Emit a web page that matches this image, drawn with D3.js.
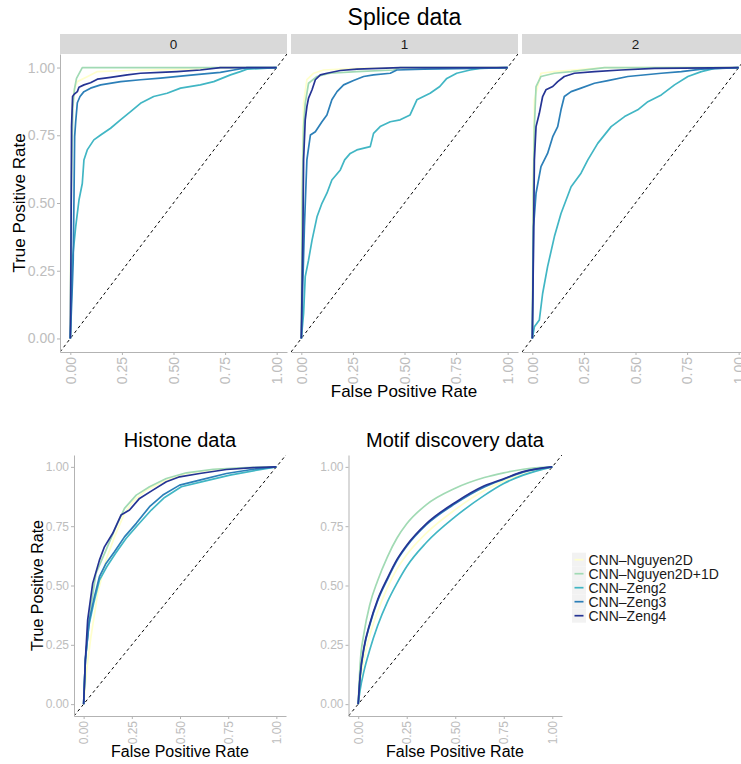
<html lang="en">
<head>
<meta charset="utf-8">
<title>ROC curves</title>
<style>
  body { margin: 0; background-color: white; }
  svg { font-family: "Liberation Sans", Arial, Helvetica, sans-serif; }
</style>
</head>
<body>
<script src="https://cdnjs.cloudflare.com/ajax/libs/d3/7.8.5/d3.min.js"></script>
<script>
// series / colours / ticks
var seriesNames = ["CNN\u2013Nguyen2D", "CNN\u2013Nguyen2D+1D", "CNN\u2013Zeng2", "CNN\u2013Zeng3", "CNN\u2013Zeng4"];
var seriesColors = ["#ffffcc", "#a1dab4", "#41b6c4", "#2c7fb8", "#253494"];
var tickValues = [0, 0.25, 0.5, 0.75, 1];
var tickLabels = ["0.00", "0.25", "0.50", "0.75", "1.00"];
var facetLabels = ["0", "1", "2"];

// ROC points [false positive rate, true positive rate]
// Splice, facet 0
var splice0_n2d = [[0,0],[0.003,0.5],[0.01,0.86],[0.02,0.92],[0.034,0.948],[0.082,0.966],[0.131,0.985],[0.276,0.989],[0.6,0.994],[0.727,1],[1,1]];
var splice0_n2d1d = [[0,0],[0.004,0.5],[0.012,0.85],[0.02,0.92],[0.03,0.96],[0.058,1],[1,1]];
var splice0_zeng2 = [[0,0],[0.003,0.1],[0.01,0.289],[0.026,0.412],[0.042,0.511],[0.058,0.572],[0.066,0.659],[0.082,0.696],[0.114,0.733],[0.147,0.751],[0.195,0.776],[0.243,0.807],[0.292,0.837],[0.34,0.868],[0.404,0.893],[0.469,0.905],[0.534,0.924],[0.63,0.936],[0.695,0.948],[0.776,0.973],[0.824,0.985],[0.856,0.994],[1,1]];
var splice0_zeng3 = [[0,0],[0.01,0.2],[0.014,0.289],[0.018,0.536],[0.021,0.745],[0.026,0.8],[0.034,0.87],[0.047,0.893],[0.066,0.911],[0.098,0.924],[0.147,0.936],[0.244,0.948],[0.34,0.955],[0.437,0.961],[0.597,0.973],[0.727,0.982],[0.792,0.991],[0.856,1],[1,1]];
var splice0_zeng4 = [[0,0],[0.003,0.289],[0.006,0.782],[0.011,0.893],[0.018,0.901],[0.034,0.911],[0.042,0.927],[0.066,0.936],[0.098,0.944],[0.131,0.957],[0.195,0.964],[0.276,0.973],[0.34,0.979],[0.437,0.982],[0.517,0.985],[0.63,0.991],[0.727,1],[1,1]];
// Splice, facet 1
var splice1_n2d = [[0,0],[0.003,0.536],[0.011,0.868],[0.027,0.955],[0.06,0.979],[0.108,0.991],[0.269,0.997],[0.479,1],[1,1]];
var splice1_n2d1d = [[0,0],[0.005,0.536],[0.011,0.782],[0.019,0.868],[0.035,0.942],[0.076,0.967],[0.14,0.979],[0.269,0.985],[0.447,0.991],[0.479,1],[1,1]];
var splice1_zeng2 = [[0,0],[0.011,0.092],[0.019,0.228],[0.035,0.289],[0.052,0.363],[0.076,0.449],[0.1,0.499],[0.124,0.536],[0.148,0.585],[0.189,0.622],[0.21,0.659],[0.237,0.683],[0.269,0.696],[0.334,0.708],[0.35,0.757],[0.382,0.782],[0.431,0.8],[0.479,0.807],[0.527,0.825],[0.56,0.881],[0.624,0.905],[0.671,0.93],[0.705,0.96],[0.753,0.979],[0.818,0.991],[0.866,0.997],[1,1]];
var splice1_zeng3 = [[0,0],[0.006,0.166],[0.015,0.412],[0.027,0.659],[0.044,0.751],[0.068,0.763],[0.1,0.8],[0.124,0.825],[0.148,0.881],[0.173,0.911],[0.205,0.936],[0.253,0.952],[0.302,0.967],[0.35,0.973],[0.431,0.979],[0.463,0.991],[0.592,0.994],[0.834,0.997],[1,1]];
var splice1_zeng4 = [[0,0],[0.008,0.412],[0.011,0.659],[0.019,0.807],[0.027,0.856],[0.035,0.887],[0.052,0.918],[0.068,0.955],[0.092,0.973],[0.124,0.979],[0.189,0.989],[0.269,0.994],[0.479,1],[1,1]];
// Splice, facet 2
var splice2_n2d = [[0,0],[0.003,0.536],[0.01,0.881],[0.042,0.979],[0.107,0.985],[0.35,1],[1,1]];
var splice2_n2d1d = [[0,0],[0.005,0.536],[0.01,0.782],[0.018,0.93],[0.042,0.967],[0.107,0.979],[0.188,0.985],[0.35,1],[1,1]];
var splice2_zeng2 = [[0,0],[0.01,0.043],[0.034,0.068],[0.05,0.166],[0.074,0.265],[0.107,0.376],[0.139,0.461],[0.188,0.56],[0.236,0.61],[0.269,0.659],[0.317,0.72],[0.382,0.782],[0.447,0.819],[0.511,0.844],[0.56,0.874],[0.625,0.899],[0.689,0.936],[0.754,0.967],[0.819,0.985],[0.883,0.997],[1,1]];
var splice2_zeng3 = [[0,0],[0.006,0.412],[0.018,0.536],[0.042,0.634],[0.074,0.683],[0.099,0.745],[0.123,0.782],[0.139,0.844],[0.155,0.893],[0.188,0.911],[0.236,0.924],[0.301,0.942],[0.366,0.952],[0.463,0.967],[0.625,0.979],[0.722,0.985],[0.819,0.994],[1,1]];
var splice2_zeng4 = [[0,0],[0.005,0.289],[0.01,0.659],[0.018,0.782],[0.034,0.831],[0.05,0.893],[0.066,0.918],[0.099,0.93],[0.123,0.948],[0.155,0.967],[0.204,0.979],[0.301,0.985],[0.43,0.991],[0.592,0.997],[1,1]];
// Histone
var histone_n2d = [[0,0],[0.016,0.144],[0.038,0.285],[0.073,0.467],[0.116,0.607],[0.16,0.705],[0.212,0.804],[0.255,0.853],[0.325,0.902],[0.429,0.944],[0.533,0.972],[0.689,0.989],[1,1]];
var histone_n2d1d = [[0,0],[0.009,0.187],[0.03,0.37],[0.064,0.551],[0.116,0.649],[0.168,0.748],[0.212,0.825],[0.273,0.881],[0.342,0.916],[0.429,0.951],[0.533,0.975],[0.672,0.99],[0.845,0.997],[1,1]];
var histone_zeng2 = [[0,0],[0.009,0.187],[0.026,0.327],[0.052,0.425],[0.082,0.523],[0.12,0.579],[0.165,0.635],[0.22,0.698],[0.281,0.755],[0.351,0.818],[0.42,0.871],[0.507,0.916],[0.611,0.937],[0.759,0.965],[0.898,0.986],[1,1]];
var histone_zeng3 = [[0,0],[0.009,0.187],[0.03,0.355],[0.056,0.453],[0.082,0.537],[0.116,0.593],[0.16,0.642],[0.212,0.705],[0.273,0.762],[0.342,0.832],[0.411,0.881],[0.498,0.923],[0.602,0.944],[0.741,0.972],[0.88,0.99],[1,1]];
var histone_zeng4 = [[0,0],[0.009,0.187],[0.021,0.355],[0.047,0.509],[0.082,0.607],[0.108,0.663],[0.151,0.72],[0.194,0.797],[0.238,0.818],[0.29,0.867],[0.359,0.902],[0.429,0.937],[0.498,0.958],[0.602,0.972],[0.741,0.989],[0.88,0.997],[1,1]];
// Motif discovery
var motif_n2d = [[0,0],[0.01,0.09],[0.03,0.19],[0.06,0.29],[0.1,0.39],[0.15,0.49],[0.2,0.57],[0.25,0.63],[0.35,0.72],[0.5,0.82],[0.65,0.9],[0.75,0.94],[0.85,0.97],[1,1]];
var motif_n2d1d = [[0,0],[0.01,0.17],[0.03,0.3],[0.06,0.42],[0.1,0.52],[0.15,0.62],[0.2,0.7],[0.25,0.76],[0.35,0.84],[0.5,0.91],[0.65,0.955],[0.75,0.975],[0.85,0.99],[1,1]];
var motif_zeng2 = [[0,0],[0.01,0.06],[0.03,0.14],[0.06,0.23],[0.1,0.33],[0.15,0.43],[0.2,0.51],[0.25,0.58],[0.35,0.68],[0.5,0.79],[0.65,0.88],[0.75,0.93],[0.85,0.965],[1,1]];
var motif_zeng3 = [[0,0],[0.01,0.115],[0.03,0.235],[0.06,0.335],[0.1,0.435],[0.15,0.525],[0.2,0.605],[0.25,0.665],[0.35,0.755],[0.5,0.845],[0.65,0.915],[0.75,0.948],[0.85,0.978],[1,1]];
var motif_zeng4 = [[0,0],[0.01,0.12],[0.03,0.24],[0.06,0.34],[0.1,0.44],[0.15,0.53],[0.2,0.61],[0.25,0.67],[0.35,0.76],[0.5,0.85],[0.65,0.92],[0.75,0.95],[0.85,0.98],[1,1]];

var fullWidth = 741;
var fullHeight = 764;
var tickGray = "#bdbdbd";
var lineGray = "#b3b3b3";

var svg = d3.select("body")
            .append("svg")
            .attr("width", fullWidth)
            .attr("height", fullHeight);

var clipCount = 0;

function drawPanel(left, top, w, h, curves, opt) {
  var x = d3.scaleLinear().domain([-0.05, 1.05]).range([left, left + w]);
  var y = d3.scaleLinear().domain([-0.05, 1.05]).range([top + h, top]);

  var clipId = "clip" + (clipCount++);
  svg.append("clipPath").attr("id", clipId)
     .append("rect").attr("x", left).attr("y", top).attr("width", w).attr("height", h);

  var g = svg.append("g").attr("clip-path", "url(#" + clipId + ")");

  // chance line
  g.append("line")
   .attr("x1", x(-0.05)).attr("y1", y(-0.05))
   .attr("x2", x(1.05)).attr("y2", y(1.05))
   .attr("stroke", "black").attr("stroke-width", 1)
   .attr("stroke-dasharray", "3,3");

  var line = d3.line()
               .x(function(d) { return x(d[0]); })
               .y(function(d) { return y(d[1]); })
               .curve(opt.smooth ? d3.curveMonotoneX : d3.curveLinear);

  g.selectAll(".roc")
   .data(curves).enter()
   .append("path").attr("class", "roc")
   .attr("d", line)
   .attr("fill", "none")
   .attr("stroke", function(d, i) { return seriesColors[i]; })
   .attr("stroke-width", 1.7)
   .attr("stroke-linejoin", "round");

  // x axis
  var xAxis = d3.axisBottom(x)
                .tickValues(tickValues)
                .tickFormat(function(d, i) { return tickLabels[i]; })
                .tickSize(3).tickSizeOuter(0);
  var gx = svg.append("g")
              .attr("transform", "translate(0," + (top + h) + ")")
              .call(xAxis);
  gx.select(".domain").attr("stroke", lineGray);
  gx.selectAll(".tick line").attr("stroke", lineGray);
  gx.selectAll("text")
    .attr("fill", tickGray)
    .attr("font-family", "Liberation Sans, Arial, sans-serif")
    .attr("font-size", opt.tickSize)
    .attr("transform", "rotate(-90)")
    .attr("text-anchor", "end")
    .attr("x", -5).attr("y", 0).attr("dy", "0.35em");

  if (opt.showY) {
    var yAxis = d3.axisLeft(y)
                  .tickValues(tickValues)
                  .tickFormat(function(d, i) { return tickLabels[i]; })
                  .tickSize(3).tickSizeOuter(0).tickPadding(2);
    var gy = svg.append("g")
                .attr("transform", "translate(" + left + ",0)")
                .call(yAxis);
    gy.select(".domain").attr("stroke", lineGray);
    gy.selectAll(".tick line").attr("stroke", lineGray);
    gy.selectAll("text")
      .attr("fill", tickGray)
      .attr("font-family", "Liberation Sans, Arial, sans-serif")
      .attr("font-size", opt.tickSize);
  }
}

// ---- Splice data (faceted) ----
var spliceCurves = [
  [splice0_n2d, splice0_n2d1d, splice0_zeng2, splice0_zeng3, splice0_zeng4],
  [splice1_n2d, splice1_n2d1d, splice1_zeng2, splice1_zeng3, splice1_zeng4],
  [splice2_n2d, splice2_n2d1d, splice2_zeng2, splice2_zeng3, splice2_zeng4]
];
var facetW = 227, facetGap = 4, facetLeft = 60, facetTop = 54, facetH = 298;

svg.append("text")
   .attr("x", facetLeft + (3 * facetW + 2 * facetGap) / 2).attr("y", 25)
   .attr("text-anchor", "middle").attr("font-size", 23).attr("fill", "black")
   .text("Splice data");

spliceCurves.forEach(function(curves, i) {
  var left = facetLeft + i * (facetW + facetGap);
  svg.append("rect")
     .attr("x", left).attr("y", 34).attr("width", facetW).attr("height", 20)
     .attr("fill", "#d9d9d9");
  svg.append("text")
     .attr("x", left + facetW / 2).attr("y", 44).attr("dy", "0.35em")
     .attr("text-anchor", "middle").attr("font-size", 13.5).attr("fill", "#1a1a1a")
     .text(facetLabels[i]);
  drawPanel(left, facetTop, facetW, facetH, curves, {showY: i === 0, tickSize: 14, smooth: false});
});

svg.append("text")
   .attr("x", 404).attr("y", 397)
   .attr("text-anchor", "middle").attr("font-size", 17).attr("fill", "black")
   .text("False Positive Rate");
svg.append("text")
   .attr("transform", "translate(25," + (facetTop + facetH / 2) + ") rotate(-90)")
   .attr("text-anchor", "middle").attr("font-size", 17).attr("fill", "black")
   .text("True Positive Rate");

// ---- Histone data ----
var histCurves = [histone_n2d, histone_n2d1d, histone_zeng2, histone_zeng3, histone_zeng4];
drawPanel(74, 455, 212, 261, histCurves, {showY: true, tickSize: 12, smooth: false});
svg.append("text")
   .attr("x", 180).attr("y", 447)
   .attr("text-anchor", "middle").attr("font-size", 20).attr("fill", "black")
   .text("Histone data");
svg.append("text")
   .attr("x", 180).attr("y", 757)
   .attr("text-anchor", "middle").attr("font-size", 16).attr("fill", "black")
   .text("False Positive Rate");
svg.append("text")
   .attr("transform", "translate(43,585.5) rotate(-90)")
   .attr("text-anchor", "middle").attr("font-size", 16).attr("fill", "black")
   .text("True Positive Rate");

// ---- Motif discovery data ----
var motifCurves = [motif_n2d, motif_n2d1d, motif_zeng2, motif_zeng3, motif_zeng4];
drawPanel(348.5, 455, 213.5, 261, motifCurves, {showY: true, tickSize: 12, smooth: true});
svg.append("text")
   .attr("x", 455).attr("y", 447)
   .attr("text-anchor", "middle").attr("font-size", 20).attr("fill", "black")
   .text("Motif discovery data");
svg.append("text")
   .attr("x", 455).attr("y", 757)
   .attr("text-anchor", "middle").attr("font-size", 16).attr("fill", "black")
   .text("False Positive Rate");

// ---- legend ----
var legend = svg.append("g").attr("transform", "translate(572,552.7)");
var keys = legend.selectAll(".key")
                 .data(seriesNames).enter()
                 .append("g").attr("class", "key")
                 .attr("transform", function(d, i) { return "translate(0," + (i * 14) + ")"; });
keys.append("rect")
    .attr("width", 14).attr("height", 14)
    .attr("fill", "#f2f2f2");
keys.append("line")
    .attr("x1", 2.5).attr("x2", 11.5).attr("y1", 7).attr("y2", 7)
    .attr("stroke", function(d, i) { return seriesColors[i]; })
    .attr("stroke-width", 1.7);
keys.append("text")
    .attr("x", 16.5).attr("y", 7).attr("dy", "0.35em")
    .attr("font-size", 14).attr("fill", "#1a1a1a")
    .text(function(d) { return d; });
</script>
</body>
</html>
